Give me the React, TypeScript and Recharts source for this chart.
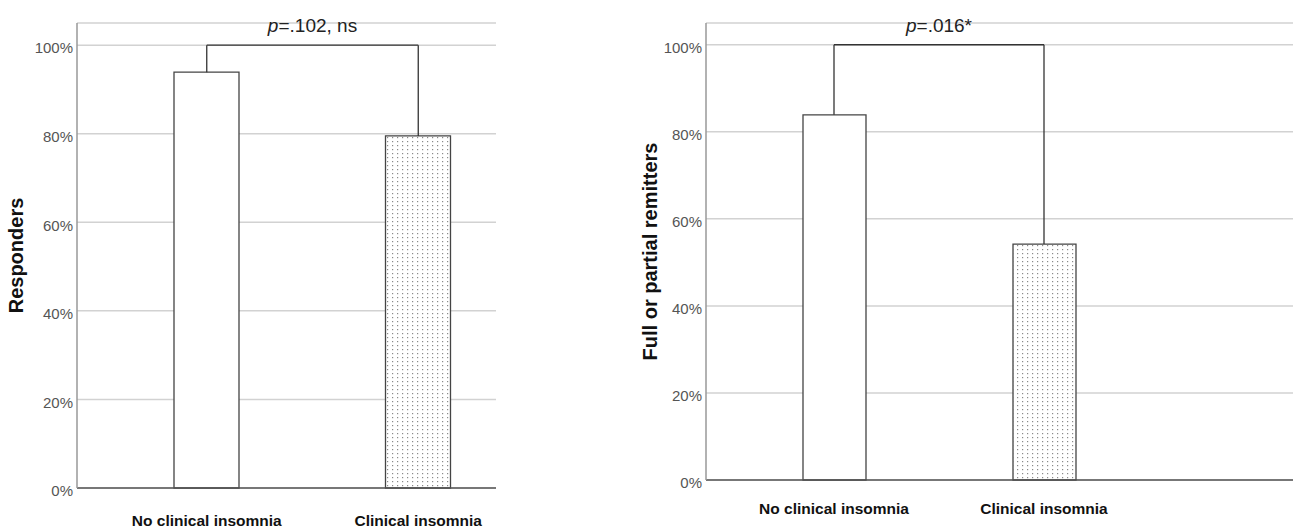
import { BarChart, Bar, XAxis, YAxis, CartesianGrid, ReferenceLine, Cell } from 'recharts';

const categories = ['No clinical insomnia', 'Clinical insomnia'];
const responders = [93.9, 79.5];
const remitters = [83.9, 54.2];
const yTicks = [0, 20, 40, 60, 80, 100];
const pValues = ['=.102, ns', '=.016*'];
const bracketLevel = 100;

type PanelProps = {
  values: number[];
  yLabel: string;
  pText: string;
  width: number;
  marginRight: number;
  yAxisWidth: number;
  labelX: number;
  padLeft: number;
  padRight: number;
  barSize: number;
  bottom: number;
  tickGap: number;
};

function Panel({ values, yLabel, pText, width, marginRight, yAxisWidth, labelX, padLeft, padRight, barSize, bottom, tickGap }: PanelProps) {
  const data = categories.map((name, i) => ({ name, value: values[i] }));
  const lineStyle = { stroke: '#333', strokeWidth: 1.3 };

  return (
    <BarChart width={width} height={530} data={data} margin={{ top: 23, right: marginRight, bottom, left: 0 }}>
      <CartesianGrid vertical={false} stroke="#d2d2d2" strokeWidth={1.5} />
      <XAxis
        dataKey="name"
        padding={{ left: padLeft, right: padRight }}
        tickLine={false}
        tickSize={0}
        tickMargin={tickGap}
        height={30}
        stroke="#555"
        strokeWidth={1.5}
        tick={{ fill: '#111', fontSize: 15.5, fontWeight: 'bold' }}
        interval={0}
      />
      <YAxis
        domain={[0, 105]}
        ticks={yTicks}
        width={yAxisWidth}
        tickLine={false}
        tickSize={0}
        tickMargin={4}
        stroke="#999"
        strokeWidth={1.5}
        tickFormatter={(v: number) => `${v}%`}
        tick={{ fill: '#555', fontSize: 15, dy: 3 }}
        label={(props: any) => {
          const vb = props.viewBox || { y: 23, height: 460 };
          const cy = vb.y + vb.height / 2;
          return (
            <text
              x={labelX}
              y={cy}
              transform={`rotate(-90 ${labelX} ${cy})`}
              textAnchor="middle"
              dominantBaseline="central"
              fontSize={20}
              fontWeight="bold"
              fill="#111"
            >
              {yLabel}
            </text>
          );
        }}
      />
      <Bar dataKey="value" barSize={barSize} stroke="#444" strokeWidth={1.3} isAnimationActive={false}>
        {data.map((d, i) => (
          <Cell key={d.name} fill={i === 1 ? 'url(#dots)' : '#fff'} />
        ))}
      </Bar>
      <ReferenceLine
        segment={[
          { x: categories[0], y: bracketLevel },
          { x: categories[1], y: bracketLevel },
        ]}
        {...lineStyle}
        label={(props: any) => {
          const vb = props.viewBox;
          if (!vb) return null;
          return (
            <text x={vb.x + vb.width / 2} y={vb.y - 13} textAnchor="middle" fontSize={19} fill="#222">
              <tspan fontStyle="italic">p</tspan>
              {pText}
            </text>
          );
        }}
      />
      {data.map((d) => (
        <ReferenceLine
          key={d.name}
          segment={[
            { x: d.name, y: bracketLevel },
            { x: d.name, y: d.value },
          ]}
          {...lineStyle}
        />
      ))}
    </BarChart>
  );
}

export default function App() {
  return (
    <div
      style={{
        position: 'absolute',
        left: 0,
        top: 0,
        width: 1293,
        height: 530,
        overflow: 'hidden',
        background: '#fff',
        fontFamily: '"Liberation Sans", Arial, sans-serif',
      }}
    >
      <svg width={0} height={0} style={{ position: 'absolute' }}>
        <defs>
          <pattern id="dots" width={5} height={4} patternUnits="userSpaceOnUse">
            <rect width={5} height={4} fill="#fff" />
            <rect x={2} y={1} width={1.2} height={1.2} fill="#8a8a8a" />
          </pattern>
        </defs>
      </svg>
      <div style={{ position: 'absolute', left: 0, top: 0 }}>
        <Panel
          values={responders}
          yLabel="Responders"
          pText={pValues[0]}
          width={640}
          marginRight={144}
          yAxisWidth={77}
          labelX={16}
          padLeft={24}
          padRight={-28}
          barSize={65}
          bottom={12}
          tickGap={27}
        />
      </div>
      <div style={{ position: 'absolute', left: 640, top: 0 }}>
        <Panel
          values={remitters}
          yLabel="Full or partial remitters"
          pText={pValues[1]}
          width={653}
          marginRight={0}
          yAxisWidth={66}
          labelX={10}
          padLeft={23}
          padRight={144}
          barSize={63}
          bottom={20}
          tickGap={23}
        />
      </div>
    </div>
  );
}
